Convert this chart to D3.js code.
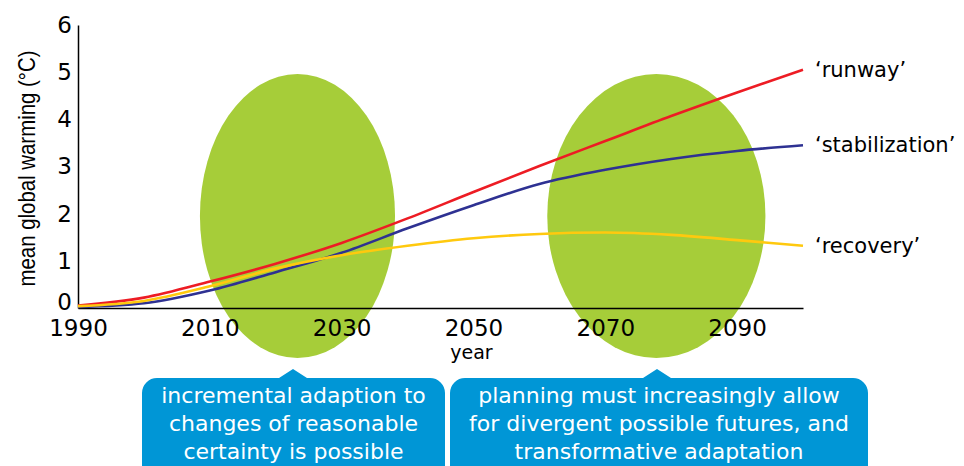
<!DOCTYPE html>
<html>
<head>
<meta charset="utf-8">
<script src="https://cdn.jsdelivr.net/npm/d3@7"></script>
<style>
  html, body { margin: 0; padding: 0; background: #fff; }
  svg { display: block; }
</style>
</head>
<body>
<svg id="chart" width="964" height="466"></svg>
<script>
// ---- data ----
const years = [1990, 2000, 2010, 2020, 2030, 2040, 2050, 2060, 2070, 2080, 2090, 2100];
const runway = [0.05, 0.22, 0.56, 0.94, 1.38, 1.90, 2.46, 3.01, 3.54, 4.07, 4.57, 5.05];
const stabilization = [0.02, 0.10, 0.37, 0.76, 1.17, 1.69, 2.18, 2.63, 2.93, 3.16, 3.33, 3.45];
const recovery = [0.04, 0.15, 0.46, 0.84, 1.12, 1.32, 1.48, 1.57, 1.60, 1.55, 1.44, 1.32];
const seriesNames = ["‘runway’", "‘stabilization’", "‘recovery’"];
const seriesColors = ["#ed1c24", "#2e3192", "#ffc90e"];
const xTicks = [1990, 2010, 2030, 2050, 2070, 2090];
const yTicks = [0, 1, 2, 3, 4, 5, 6];
const zones = [[2008.5, 2038.1], [2061.2, 2094.3]];
const callouts = [
  ["incremental adaption to", "changes of reasonable", "certainty is possible"],
  ["planning must increasingly allow", "for divergent possible futures, and", "transformative adaptation"]
];

const svg = d3.select("#chart");
const x = d3.scaleLinear().domain([1990, 2100]).range([78, 803]);
const y = d3.scaleLinear().domain([0, 6]).range([308, 25]);

// green ellipses (behind)
svg.append("g").selectAll("ellipse").data(zones).join("ellipse")
  .attr("cx", d => (x(d[0]) + x(d[1])) / 2)
  .attr("rx", d => (x(d[1]) - x(d[0])) / 2)
  .attr("cy", 216)
  .attr("ry", 142)
  .attr("fill", "#a6cd39");

// axes
const fontTick = "DejaVu Sans, sans-serif";
const gx = svg.append("g").attr("transform", `translate(0,${y(0)})`)
  .call(d3.axisBottom(x).tickValues(xTicks).tickFormat(d3.format("d")).tickSize(0).tickSizeOuter(0).tickPadding(12));
gx.select(".domain").attr("stroke", "#000").attr("stroke-width", 1.5);
gx.selectAll("text").attr("font-family", fontTick).attr("font-size", 23).attr("fill", "#000");

const gy = svg.append("g").attr("transform", `translate(${x(1990)},0)`)
  .call(d3.axisLeft(y).tickValues(yTicks).tickFormat(d3.format("d")).tickSize(0).tickSizeOuter(0).tickPadding(6));
gy.select(".domain").attr("stroke", "#000").attr("stroke-width", 1.5);
gy.selectAll("text").attr("font-family", fontTick).attr("font-size", 23).attr("fill", "#000");
gy.selectAll(".tick").filter(d => d === 0).select("text").attr("dy", "0.08em");

// axis titles
svg.append("text")
  .attr("transform", `translate(35,${(y(0) + y(6)) / 2 + 2}) rotate(-90)`)
  .attr("text-anchor", "middle")
  .attr("font-family", "Liberation Sans Narrow, Arial Narrow, sans-serif")
  .attr("font-size", 24)
  .attr("textLength", 236).attr("lengthAdjust", "spacingAndGlyphs")
  .text("mean global warming (°C)");
svg.append("text")
  .attr("x", x(2050) - 2).attr("y", 359)
  .attr("text-anchor", "middle")
  .attr("font-family", "DejaVu Sans, sans-serif")
  .attr("font-size", 19)
  .text("year");

// lines
const seriesData = [runway, stabilization, recovery];
const line = d3.line().x((d, i) => x(years[i])).y(d => y(d)).curve(d3.curveMonotoneX);
svg.append("g").selectAll("path").data(seriesData).join("path")
  .attr("d", d => line(d))
  .attr("fill", "none")
  .attr("stroke", (d, i) => seriesColors[i])
  .attr("stroke-width", 2.6);

// end labels
svg.append("g").selectAll("text").data(seriesData).join("text")
  .attr("x", x(2100) + 12)
  .attr("y", d => y(d[d.length - 1]) + 7)
  .attr("font-family", "DejaVu Sans, sans-serif")
  .attr("font-size", 21)
  .attr("fill", "#000")
  .text((d, i) => seriesNames[i]);

// callouts
const boxes = [
  {x0: 142, x1: 445, tip: 293},
  {x0: 450, x1: 868, tip: 657}
];
const cg = svg.append("g");
boxes.forEach((b, i) => {
  const top = 378, r = 15, bottom = 490;
  const p = d3.path();
  p.moveTo(b.x0 + r, top);
  p.lineTo(b.tip - 14, top);
  p.lineTo(b.tip, top - 9);
  p.lineTo(b.tip + 14, top);
  p.lineTo(b.x1 - r, top);
  p.arcTo(b.x1, top, b.x1, top + r, r);
  p.lineTo(b.x1, bottom);
  p.lineTo(b.x0, bottom);
  p.lineTo(b.x0, top + r);
  p.arcTo(b.x0, top, b.x0 + r, top, r);
  p.closePath();
  cg.append("path").attr("d", p.toString()).attr("fill", "#0096d6");
  const cx = (b.x0 + b.x1) / 2;
  cg.append("text")
    .attr("text-anchor", "middle")
    .attr("font-family", "DejaVu Sans, sans-serif")
    .attr("font-size", 22)
    .attr("fill", "#fff")
    .selectAll("tspan").data(callouts[i]).join("tspan")
    .attr("x", cx)
    .attr("y", (d, j) => 403 + j * 28)
    .text(d => d);
});
</script>
</body>
</html>
